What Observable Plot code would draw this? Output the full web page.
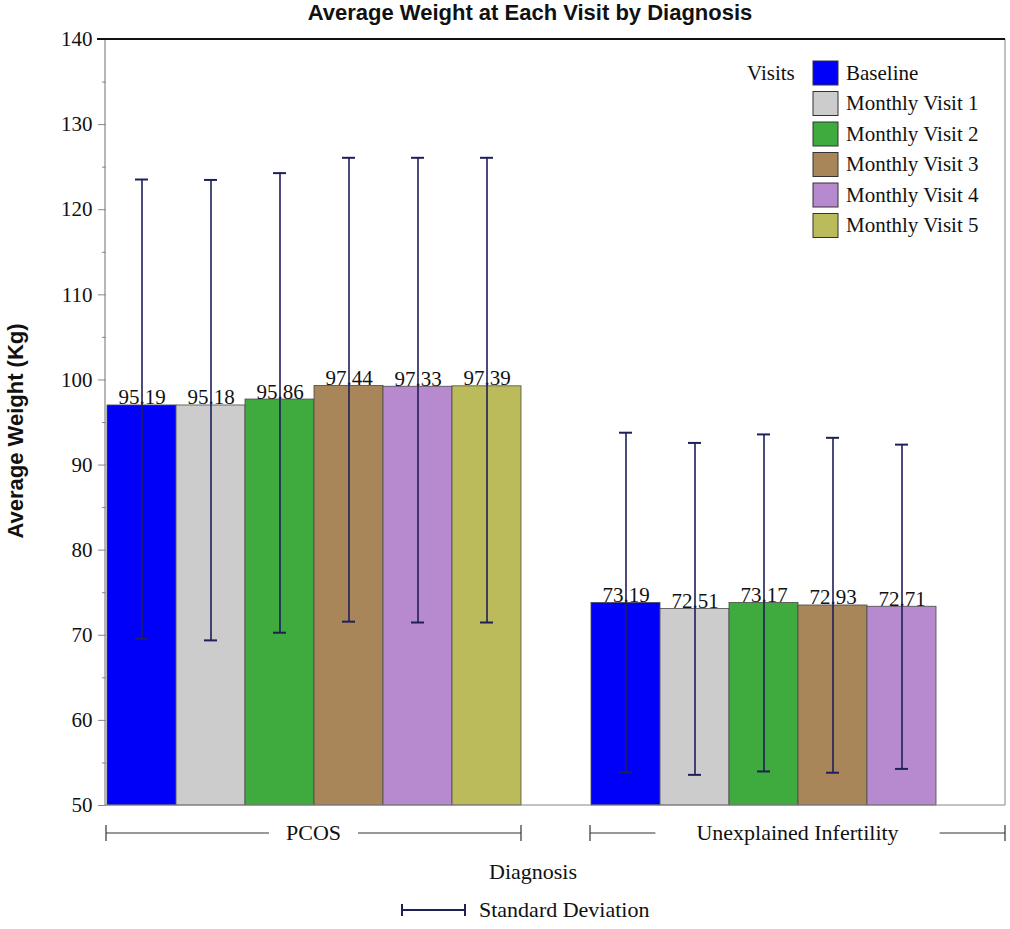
<!DOCTYPE html>
<html><head><meta charset="utf-8">
<script src="https://cdn.jsdelivr.net/npm/d3@7"></script>
<script src="https://cdn.jsdelivr.net/npm/@observablehq/plot@0.6"></script>
<style>
body{margin:0;background:#fff;}
#title{height:28px;line-height:30px;width:1010px;text-align:center;font:bold 22px "Liberation Sans",Arial,sans-serif;color:#111;padding-left:50px;box-sizing:border-box;white-space:nowrap}
#chart svg{overflow:visible;display:block}
</style></head><body>
<div id="title">Average Weight at Each Visit by Diagnosis</div>
<div id="chart"></div>
<script>
const diagnoses = ["PCOS", "Unexplained Infertility"];
const visits = ["Baseline", "Monthly Visit 1", "Monthly Visit 2", "Monthly Visit 3", "Monthly Visit 4", "Monthly Visit 5"];
const colors = ["#0000f8", "#cccccc", "#3faa3d", "#a9855a", "#b78acf", "#bcbb5c"];

const pcosMean  = [97.0, 97.0, 97.7, 99.3, 99.2, 99.25];
const pcosLabel = ["95.19", "95.18", "95.86", "97.44", "97.33", "97.39"];
const pcosLow   = [69.6, 69.4, 70.3, 71.6, 71.5, 71.5];
const pcosHigh  = [123.55, 123.5, 124.3, 126.1, 126.1, 126.1];

const uiMean  = [73.8, 73.1, 73.8, 73.5, 73.35];
const uiLabel = ["73.19", "72.51", "73.17", "72.93", "72.71"];
const uiLow   = [53.9, 53.6, 54.0, 53.85, 54.3];
const uiHigh  = [93.8, 92.6, 93.6, 93.2, 92.4];

const yTicks = [50, 60, 70, 80, 90, 100, 110, 120, 130, 140];
const yMinor = [55, 65, 75, 85, 95, 105, 115, 125, 135];
const yLabel = "Average Weight (Kg)";
const xLabel = "Diagnosis";
const legendTitle = "Visits";
const sdLabel = "Standard Deviation";

const rows = [];
pcosMean.forEach((m, i) => rows.push({diag: diagnoses[0], visit: visits[i], mean: m, label: pcosLabel[i], lo: pcosLow[i], hi: pcosHigh[i]}));
uiMean.forEach((m, i) => rows.push({diag: diagnoses[1], visit: visits[i], mean: m, label: uiLabel[i], lo: uiLow[i], hi: uiHigh[i]}));

const SERIF = '"Liberation Serif","Times New Roman",serif';
const SANS = '"Liberation Sans",Arial,sans-serif';
const W = 1010, H = 901, mT = 11, mB = 124, mL = 105, mR = 5;
const ERR = "#1f1f5a";
const bracketPad = [17, 41];

const plot = Plot.plot({
  width: W, height: H,
  marginTop: mT, marginBottom: mB, marginLeft: mL, marginRight: mR,
  style: {fontFamily: SERIF, fontSize: "21px", color: "#111", background: "white", overflow: "visible"},
  fx: {domain: diagnoses, paddingInner: 1/7, paddingOuter: 0, axis: null, label: null},
  x: {domain: visits, padding: 0, axis: null},
  y: {domain: [yTicks[0], yTicks[yTicks.length - 1]], axis: null},
  color: {domain: visits, range: colors},
  marks: [
    Plot.barY(rows, {fx: "diag", x: "visit", y1: yTicks[0], y2: "mean", fill: "visit", stroke: "#4a4a4a", strokeWidth: 0.8}),
    Plot.text(rows, {fx: "diag", x: "visit", y: "mean", text: "label", lineAnchor: "bottom", dy: -1, fontSize: 21, fill: "#111"}),
    Plot.ruleX(rows, {fx: "diag", x: "visit", y1: "lo", y2: "hi", stroke: ERR, strokeWidth: 1.6}),
    Plot.tickY(rows, {fx: "diag", x: "visit", y: "hi", stroke: ERR, strokeWidth: 2, insetLeft: 28, insetRight: 28}),
    Plot.tickY(rows, {fx: "diag", x: "visit", y: "lo", stroke: ERR, strokeWidth: 2, insetLeft: 28, insetRight: 28}),
    Plot.axisY({ticks: yMinor, tickSize: 4, tickFormat: () => "", stroke: "#888", facetAnchor: "left"}),
    Plot.axisY({ticks: yTicks, tickSize: 8, tickPadding: 6, stroke: "#888", fill: "#111", fontSize: 21, fontFamily: SERIF, facetAnchor: "left"})
  ]
});
document.getElementById("chart").appendChild(plot);

const svg = d3.select(plot);
const fx = plot.scale("fx");
const y = plot.scale("y");
const x0 = mL, x1 = W - mR;
const yTop = y.apply(yTicks[yTicks.length - 1]), yBot = y.apply(yTicks[0]);
const g = svg.append("g").attr("text-anchor", "start");

// frame
g.append("line").attr("x1", x0).attr("x2", x1).attr("y1", yBot).attr("y2", yBot).attr("stroke", "#888").attr("stroke-width", 1.2);
g.append("line").attr("x1", x1).attr("x2", x1).attr("y1", yTop).attr("y2", yBot).attr("stroke", "#999").attr("stroke-width", 1.2);
g.append("line").attr("x1", x0).attr("x2", x0).attr("y1", yTop).attr("y2", yBot).attr("stroke", "#888").attr("stroke-width", 1.2);
g.append("line").attr("x1", x0 - 8).attr("x2", x1).attr("y1", yTop).attr("y2", yTop).attr("stroke", "#111").attr("stroke-width", 2.2);

// group brackets
const by = yBot + 28;
diagnoses.forEach((d, i) => {
  const a = fx.apply(d), b = a + fx.bandwidth;
  const c = (a + b) / 2;
  const bg = g.append("g");
  bg.append("line").attr("x1", a).attr("x2", b).attr("y1", by).attr("y2", by).attr("stroke", "#333").attr("stroke-width", 1.2);
  [a, b].forEach(xx => bg.append("line").attr("x1", xx).attr("x2", xx).attr("y1", by - 8).attr("y2", by + 8).attr("stroke", "#333").attr("stroke-width", 1.2));
  const rect = bg.append("rect").attr("fill", "white");
  const t = bg.append("text").attr("x", c).attr("y", by).attr("dy", "0.33em").attr("text-anchor", "middle")
    .attr("font-family", SERIF).attr("font-size", 22).attr("fill", "#111").text(d);
  const bb = t.node().getBBox();
  rect.attr("x", bb.x - bracketPad[i]).attr("y", by - 10).attr("width", bb.width + 2 * bracketPad[i]).attr("height", 20);
});

// x label
g.append("text").attr("x", 533).attr("y", by + 39).attr("dy", "0.33em").attr("text-anchor", "middle")
  .attr("font-family", SERIF).attr("font-size", 22).attr("fill", "#111").text(xLabel);

// SD legend
const sy = by + 77;
g.append("line").attr("x1", 402).attr("x2", 465).attr("y1", sy).attr("y2", sy).attr("stroke", ERR).attr("stroke-width", 2);
[402, 465].forEach(xx => g.append("line").attr("x1", xx).attr("x2", xx).attr("y1", sy - 6).attr("y2", sy + 6).attr("stroke", ERR).attr("stroke-width", 2));
g.append("text").attr("x", 479).attr("y", sy).attr("dy", "0.33em").attr("text-anchor", "start")
  .attr("font-family", SERIF).attr("font-size", 22).attr("fill", "#111").text(sdLabel);

// y label
g.append("text").attr("transform", `translate(23,${(yTop + yBot) / 2 + 9}) rotate(-90)`).attr("text-anchor", "middle")
  .attr("font-family", SANS).attr("font-weight", "bold").attr("font-size", 22).attr("fill", "#111").text(yLabel);

// color legend
const lg = g.append("g").attr("text-anchor", "start");
lg.append("text").attr("x", 747).attr("y", yTop + 34).attr("dy", "0.33em").attr("text-anchor", "start")
  .attr("font-family", SERIF).attr("font-size", 21).attr("fill", "#111").text(legendTitle);
visits.forEach((v, i) => {
  const ry = yTop + 22 + i * 30.5;
  lg.append("rect").attr("x", 813).attr("y", ry).attr("width", 25).attr("height", 24)
    .attr("fill", colors[i]).attr("stroke", "#333").attr("stroke-width", 1);
  lg.append("text").attr("x", 846).attr("y", ry + 12).attr("dy", "0.33em").attr("text-anchor", "start")
    .attr("font-family", SERIF).attr("font-size", 21).attr("fill", "#111").text(v);
});
</script>
</body></html>
